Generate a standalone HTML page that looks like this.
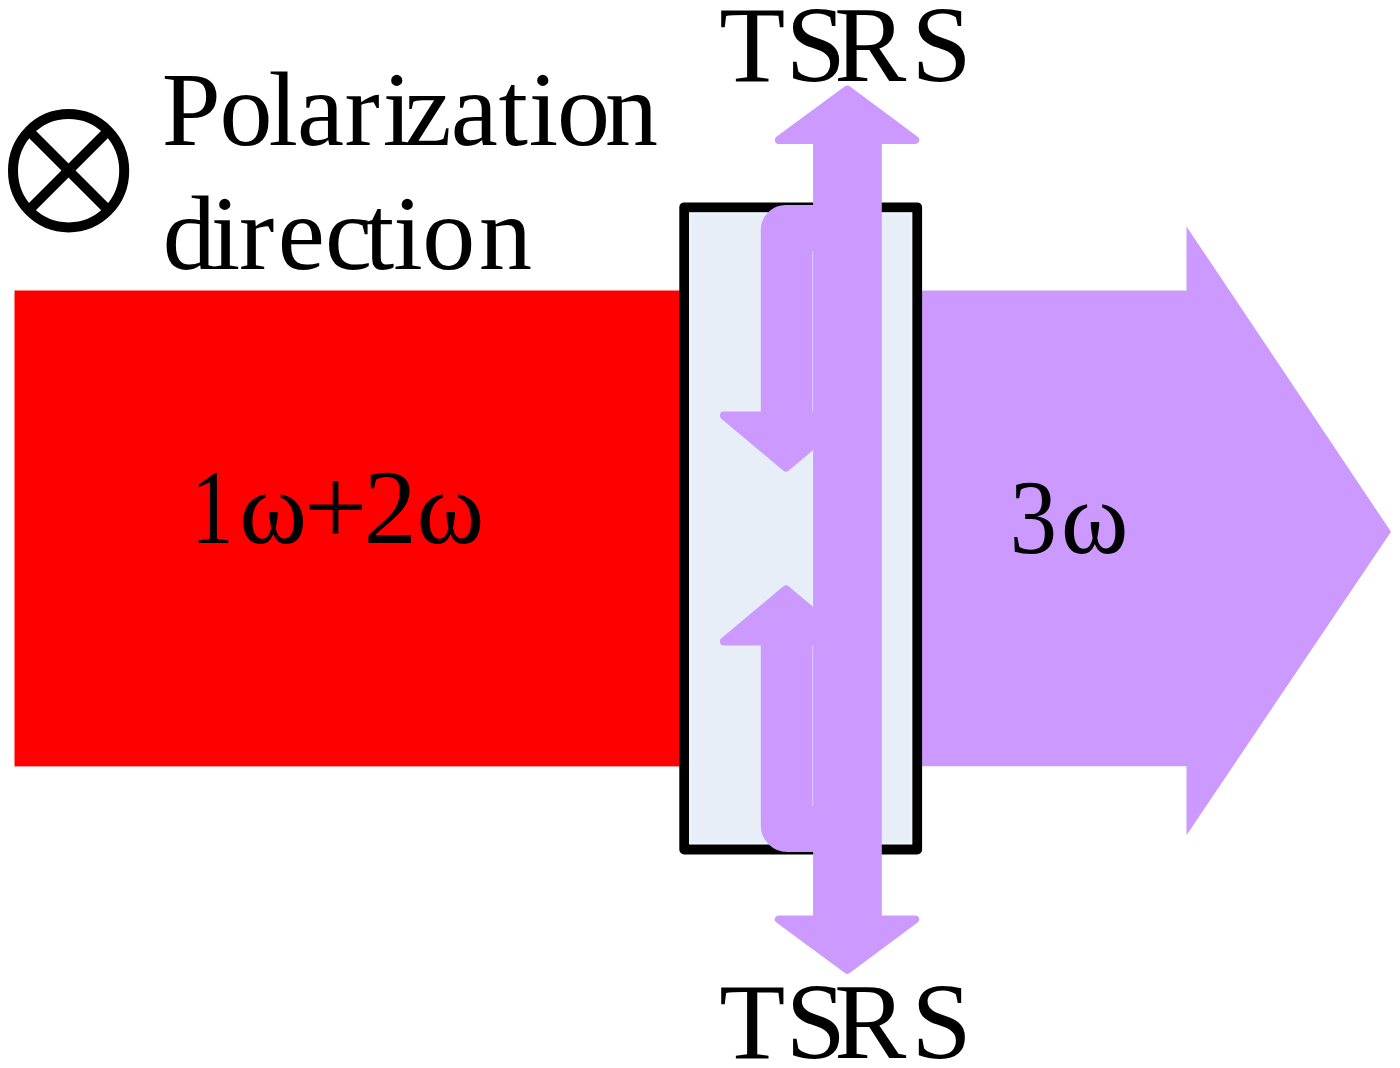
<!DOCTYPE html>
<html>
<head>
<meta charset="utf-8">
<style>
html,body{margin:0;padding:0;background:#fff;}
body{width:1400px;height:1068px;overflow:hidden;}
svg{display:block;}
text{font-family:"Liberation Serif",serif;fill:#000;}
</style>
</head>
<body>
<svg width="1400" height="1068" viewBox="0 0 1400 1068">
  <rect x="0" y="0" width="1400" height="1068" fill="#fff"/>
  <g id="shapes">
  <!-- red beam -->
  <rect x="14.5" y="290.5" width="670" height="475.9" fill="#FF0000"/>
  <!-- purple output arrow -->
  <polygon points="917,290.5 1186.5,290.5 1186.5,226.4 1391,531.8 1186.5,835.2 1186.5,766.3 917,766.3" fill="#CC99FF"/>
  <!-- crystal -->
  <rect x="684.2" y="207.3" width="233" height="642.2" fill="#E8EEF8" stroke="#000" stroke-width="9.8" stroke-linejoin="round"/>
  <rect x="690.1" y="213.7" width="221" height="629.4" fill="none" stroke="#EEF3FB" stroke-width="2"/>
  <!-- bent arrows -->
  <g fill="#CC99FF" stroke="#CC99FF" stroke-width="8" stroke-linejoin="round">
    <path d="M850 209 L785.8 209 A21 21 0 0 0 764.8 230 L764.8 415.6 L723.9 415.6 L786 467.6 L848 415.6 L808.5 415.6 L808.5 247 L850 247 Z"/>
    <path d="M850 848 L787.3 848 A22.5 22.5 0 0 1 764.8 825.5 L764.8 641.4 L723.9 641.4 L786 589.4 L848 641.4 L808.5 641.4 L808.5 810 L850 810 Z"/>
  </g>
  <!-- vertical double arrow -->
  <polygon points="847.3,89.5 915.2,139.9 877.8,139.9 877.8,919.4 915.2,919.4 847.3,969.8 778.8,919.4 817.1,919.4 817.1,139.9 778.8,139.9" fill="#CC99FF" stroke="#CC99FF" stroke-width="8" stroke-linejoin="round"/>
  <!-- polarization symbol -->
  <g stroke="#000" stroke-width="10" fill="none">
    <ellipse cx="68.6" cy="170.75" rx="55.6" ry="56.7"/>
    <line x1="29" y1="131" x2="108" y2="210"/>
    <line x1="108" y1="131" x2="29" y2="210"/>
  </g>
  </g>
  <g id="texts">
    <text font-size="108" x="719.29 785.8 834.31 911.4" y="80.8">TSRS</text>
    <text font-size="108" x="719.29 785.8 834.31 911.4" y="1058">TSRS</text>
    <text font-size="106" x="161.67 219.6 268.47 296.94 344.61 382.67 404.53 450.84 498.57 528.67 557.0 605.09" y="144.9">Polarization</text>
    <text font-size="106" x="162.73 210.87 238.96 277.64 325.09 364.82 393.17 422.3 478.89" y="268.6">direction</text>
    <text font-size="105" x="185.79" y="542.6" transform="translate(213.5 0) scale(0.8 1) translate(-213.5 0)">1</text>
    <text y="542.6"><tspan font-size="103" x="239.25">ω</tspan><tspan font-size="112" x="304.06" y="545">+</tspan><tspan font-size="106" x="363.8" y="542.6">2</tspan><tspan font-size="103" x="416.4">ω</tspan></text>
    <text font-size="105" x="1006.99" y="553" transform="translate(1033.7 0) scale(0.9 1) translate(-1033.7 0)">3</text>
    <text font-size="103" x="1060.7" y="553">ω</text>
  </g>
</svg>
</body>
</html>
